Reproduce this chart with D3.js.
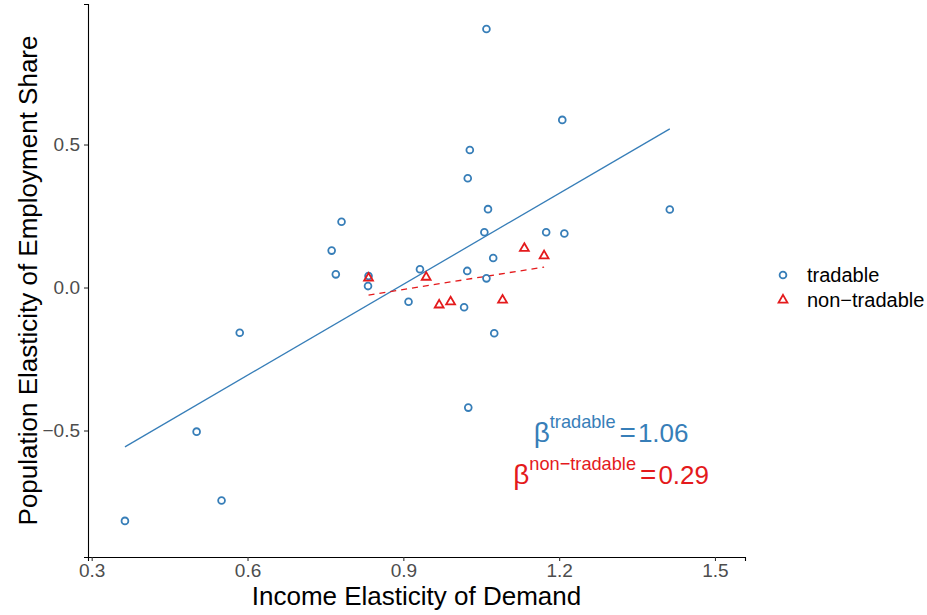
<!DOCTYPE html>
<html>
<head>
<meta charset="utf-8">
<script src="https://cdn.jsdelivr.net/npm/d3@7"></script>
<style>
body { margin: 0; background: #fff; }
text { font-family: "Liberation Sans", Arial, sans-serif; }
</style>
</head>
<body>
<svg id="chart"></svg>
<script>
var w = 927;
var h = 615;

// tradable industries: income elasticity, population elasticity
var tradX = [0.781, 0.762, 0.770, 0.833, 0.832, 1.060, 1.206, 1.028, 1.024, 1.063,
             1.413, 1.056, 1.175, 1.210, 1.073, 0.932, 1.023, 1.060, 0.910, 1.017,
             1.075, 1.025, 0.585, 0.502, 0.550, 0.364];
var tradY = [0.230, 0.129, 0.046, 0.040, 0.005, 0.904, 0.586, 0.481, 0.382, 0.274,
             0.273, 0.193, 0.193, 0.189, 0.103, 0.064, 0.058, 0.032, -0.050, -0.069,
             -0.160, -0.420, -0.158, -0.504, -0.745, -0.816];

// non-tradable industries
var nonX = [0.833, 0.944, 0.969, 0.991, 1.091, 1.133, 1.171];
var nonY = [0.033, 0.036, -0.061, -0.050, -0.044, 0.137, 0.111];

// fitted lines: [intercept, slope]
var fitTrad = [-0.943, 1.06];
var fitNon = [-0.268, 0.29];

var xTicks = [0.3, 0.6, 0.9, 1.2, 1.5];
var yTicks = [-0.5, 0.0, 0.5];

var groups = ["tradable", "non\u2212tradable"];
var betas = ["1.06", "0.29"];
var colors = ["#377EB8", "#E41A1C"];

var pLeft = 88, pRight = 745, pTop = 4, pBottom = 557;

var svg = d3.select("#chart")
    .attr("width", w)
    .attr("height", h);

var x = d3.scaleLinear()
    .domain([0.29288, 1.5578])
    .range([pLeft, pRight]);

var y = d3.scaleLinear()
    .domain([-0.9423, 0.9913])
    .range([pBottom, pTop]);

// axes
var xAxis = svg.append("g")
    .attr("transform", "translate(0," + pBottom + ")")
    .call(d3.axisBottom(x).tickValues(xTicks).tickFormat(d3.format(".1f")).tickSizeOuter(0).tickSize(4).tickPadding(3));

var yAxis = svg.append("g")
    .attr("transform", "translate(" + pLeft + ",0)")
    .call(d3.axisLeft(y).tickValues(yTicks).tickFormat(d3.format(".1f")).tickSizeOuter(0).tickSize(4).tickPadding(4));

[xAxis, yAxis].forEach(function(a){
    a.select(".domain").attr("stroke", "#000").attr("stroke-width", 1.1);
    a.selectAll(".tick line").attr("stroke", "#333").attr("stroke-width", 1.1);
    a.selectAll(".tick text")
        .attr("fill", "#4D4D4D")
        .style("font-size", "19px")
        .style("font-family", "'Liberation Sans', Arial, sans-serif");
});

svg.append("text")
    .attr("x", (pLeft + pRight) / 2)
    .attr("y", 605)
    .attr("text-anchor", "middle")
    .style("font-size", "26px")
    .text("Income Elasticity of Demand");

svg.append("text")
    .attr("transform", "translate(37," + ((pTop + pBottom) / 2) + ") rotate(-90)")
    .attr("text-anchor", "middle")
    .style("font-size", "26px")
    .text("Population Elasticity of Employment Share");

// fitted lines over each group's x range
function fitLine(xs, fit) {
    var ext = d3.extent(xs);
    return ext.map(function(v){ return [v, fit[0] + fit[1] * v]; });
}
var line = d3.line()
    .x(function(d){ return x(d[0]); })
    .y(function(d){ return y(d[1]); });

svg.append("path")
    .attr("d", line(fitLine(tradX, fitTrad)))
    .attr("fill", "none")
    .attr("stroke", colors[0])
    .attr("stroke-width", 1.3);

svg.append("path")
    .attr("d", line(fitLine(nonX, fitNon)))
    .attr("fill", "none")
    .attr("stroke", colors[1])
    .attr("stroke-width", 1.3)
    .attr("stroke-dasharray", "6,5");

// points
var tri = d3.symbol().type(d3.symbolTriangle).size(34);

svg.append("g").selectAll("circle")
    .data(d3.range(tradX.length))
    .enter().append("circle")
    .attr("cx", function(i){ return x(tradX[i]); })
    .attr("cy", function(i){ return y(tradY[i]); })
    .attr("r", 3.4)
    .attr("fill", "none")
    .attr("stroke", colors[0])
    .attr("stroke-width", 1.8);

svg.append("g").selectAll("path")
    .data(d3.range(nonX.length))
    .enter().append("path")
    .attr("d", tri)
    .attr("transform", function(i){ return "translate(" + x(nonX[i]) + "," + y(nonY[i]) + ")"; })
    .attr("fill", "none")
    .attr("stroke", colors[1])
    .attr("stroke-width", 1.8);

// slope annotations
var annY = [-0.5, -0.65];
var annX = 1.3;
groups.forEach(function(g, i){
    var t = svg.append("text")
        .attr("x", x(annX))
        .attr("y", y(annY[i]) + 11)
        .attr("text-anchor", "middle")
        .attr("fill", colors[i])
        .style("font-size", "26px");
    t.append("tspan").style("font-size", "28px").text("\u03B2");
    t.append("tspan").attr("dy", -14).style("font-size", "18.2px").text(g);
    t.append("tspan").attr("dy", 14).attr("dx", 4).style("font-size", "28px").text("=");
    t.append("tspan").attr("dx", 2).text(betas[i]);
});

// legend
var legY = [275, 300];
var leg = svg.append("g");
leg.append("circle")
    .attr("cx", 783).attr("cy", legY[0]).attr("r", 3.4)
    .attr("fill", "none").attr("stroke", colors[0]).attr("stroke-width", 1.8);
leg.append("path")
    .attr("d", tri)
    .attr("transform", "translate(783," + legY[1] + ")")
    .attr("fill", "none").attr("stroke", colors[1]).attr("stroke-width", 1.8);
groups.forEach(function(g, i){
    leg.append("text")
        .attr("x", 807)
        .attr("y", legY[i] + 7)
        .style("font-size", "20px")
        .text(g);
});
</script>
</body>
</html>
